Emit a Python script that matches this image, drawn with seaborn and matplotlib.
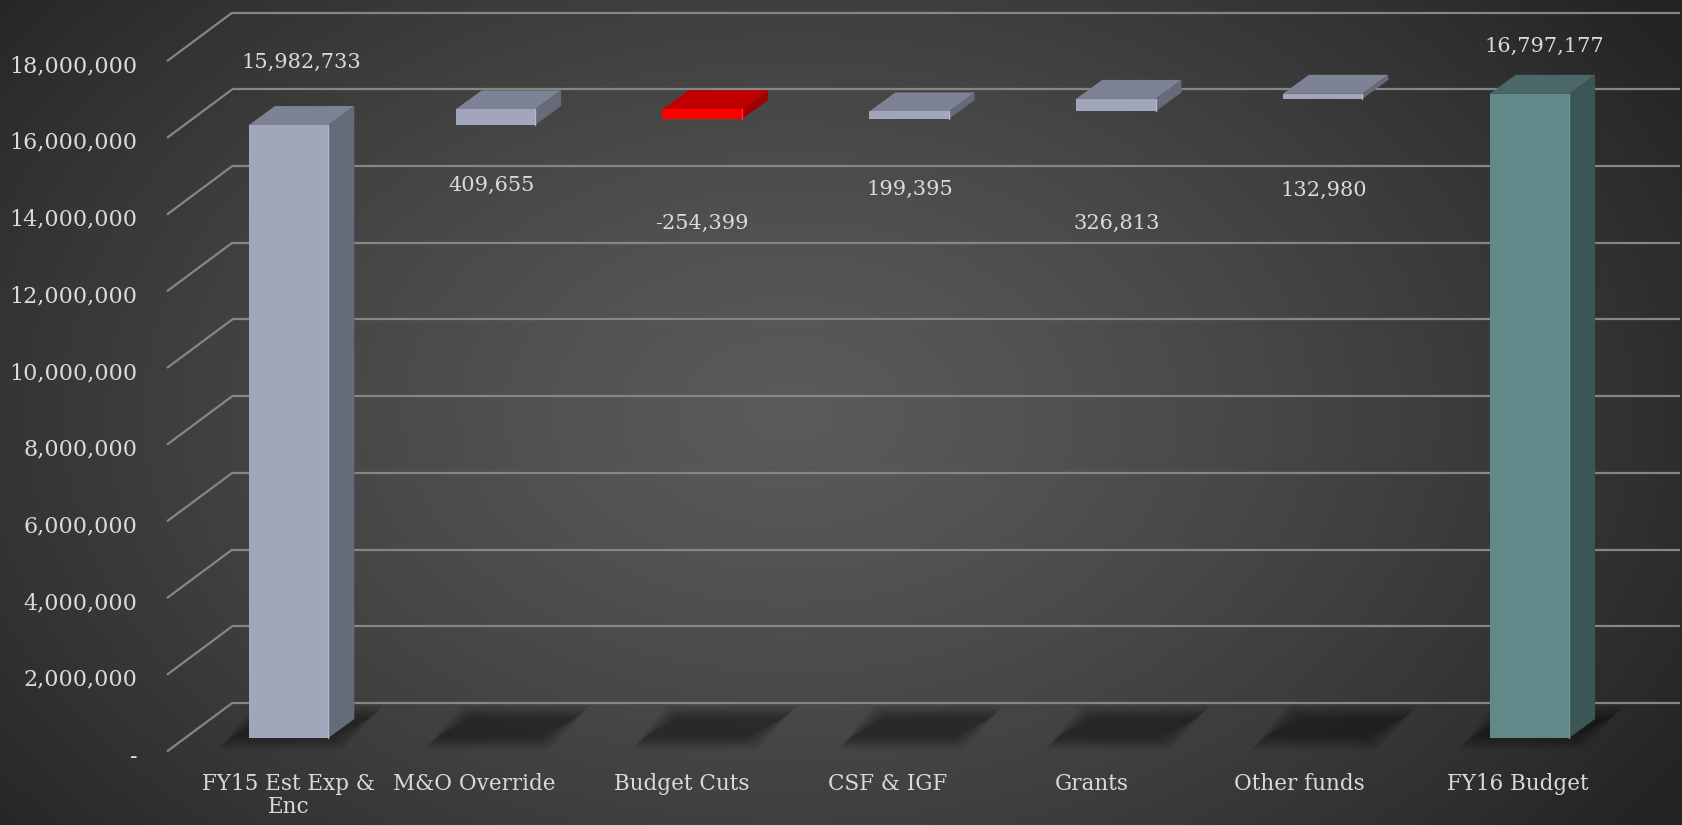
import numpy as np
import matplotlib
matplotlib.use("Agg")
import matplotlib.pyplot as plt
from matplotlib.patches import Polygon
import seaborn as sns

# ---------------- data ----------------
categories = ["FY15 Est Exp &\nEnc", "M&O Override", "Budget Cuts", "CSF & IGF",
              "Grants", "Other funds", "FY16 Budget"]
values = [15982733, 409655, -254399, 199395, 326813, 132980, 16797177]
is_total = [True, False, False, False, False, False, True]
y_ticks = [0, 2000000, 4000000, 6000000, 8000000, 10000000, 12000000, 14000000,
           16000000, 18000000]

# ---------------- styles ----------------
front_colors = ["#A2A6BA", "#A2A6BA", "#FF0000", "#A2A6BA", "#A2A6BA", "#A2A6BA", "#5F8A89"]
top_colors = ["#7D8294", "#7D8294", "#C00000", "#7D8294", "#7D8294", "#7D8294", "#4B6867"]
side_colors = ["#666B79", "#666B79", "#A00000", "#666B79", "#666B79", "#666B79", "#3C5655"]
edge_colors = ["#B3B7CB", "#B3B7CB", "#FF3030", "#B3B7CB", "#B3B7CB", "#B3B7CB", "#6E9897"]
# data-label offsets in pixels (x, y), relative to bar top (totals) or bar bottom (steps)
label_offsets = [(13, 63), (-4, -60), (0, -104), (1, -70), (1, -112), (1, -91), (15, 47)]
cat_nudge = [0, -21, -20, -21, -24, -23, -12]
TEXT = "#DADADA"
GRID = "#868686"

# waterfall geometry
bottoms, heights = [], []
running = 0
for v, tot in zip(values, is_total):
    if tot:
        bottoms.append(0)
        heights.append(v)
        running = v
    else:
        bottoms.append(min(running, running + v))
        heights.append(abs(v))
        running += v

sns.set_theme(style="white")
plt.rcParams['font.family'] = ['DejaVu Serif']

W, H, DPI = 1682, 825, 100
fig = plt.figure(figsize=(W / DPI, H / DPI), dpi=DPI)

# background radial gradient
bg = fig.add_axes([0, 0, 1, 1], zorder=0)
yy, xx = np.mgrid[0:1:H * 1j, 0:1:W * 1j]
r = np.sqrt(((xx - 0.47) / 0.62) ** 2 + ((yy - 0.5) / 0.85) ** 2)
shade = (0x5A - (0x5A - 0x24) * np.clip(r, 0, 1) ** 1.3) / 255.0
bg.imshow(np.dstack([shade] * 3), aspect='auto', extent=[0, 1, 0, 1])
bg.set_axis_off()

ax = fig.add_axes([0, 0, 1, 1], zorder=1)
ax.patch.set_alpha(0)

sns.barplot(x=list(range(len(categories))), y=heights, hue=list(range(len(categories))),
            palette=front_colors, saturation=1, width=0.384, legend=False, ax=ax,
            edgecolor="none", zorder=5)

# scale: front plane of bars
PX_CAT = 206.8
PX_UNIT = 38.35 / 1e6
X0 = 288.6
Y0 = H - 738
ax.set_xlim(-X0 / PX_CAT, (W - X0) / PX_CAT)
ax.set_ylim(-Y0 / PX_UNIT, (H - Y0) / PX_UNIT)
ax.set_axis_off()


def d(px, py):
    inv = ax.transData.inverted()
    a = inv.transform((0, 0))
    b = inv.transform((px, py))
    return b[0] - a[0], b[1] - a[1]


bx, by = d(47, 35)      # back wall
fx, fy = d(-17.6, -13)  # front edge of floor
dx, dy = d(26, 19)      # bar depth

n = len(categories)
left, right = -0.5, n - 0.5
for v in y_ticks:
    ax.plot([left + bx, right + bx], [v + by, v + by], color=GRID, lw=1.6, zorder=1,
            solid_capstyle='butt')
    ax.plot([left + fx, left + bx], [v + fy, v + by], color=GRID, lw=1.6, zorder=1)
    ax.annotate("-" if v == 0 else f"{v:,}", xy=(left, v), xytext=(-48, -18.5),
                textcoords='offset pixels', ha='right', va='center', fontsize=16,
                color=TEXT, zorder=10)

# soft floor shadows
shadow_px = [(-64, -5), (48, -5), (88, 26), (-28, 26)]
for p in ax.patches[:n]:
    c = p.get_x() + p.get_width() / 2
    for k in range(10):
        g = 7 - k * 1.5
        verts = []
        for (sx, sy) in shadow_px:
            ex = sx + (g if sx > 12 else -g)
            ey = sy + (g if sy > 10 else -g)
            ox, oy = d(ex, ey)
            verts.append((c + ox, oy))
        ax.add_patch(Polygon(verts, closed=True, facecolor="black", edgecolor="none",
                             alpha=0.042, zorder=2))

# 3D bars: move front faces to waterfall bottoms and add top / side faces
for i, p in enumerate(ax.patches[:n]):
    p.set_y(bottoms[i])
    p.set_height(heights[i])
    x0 = p.get_x()
    x1 = x0 + p.get_width()
    b = bottoms[i]
    t = bottoms[i] + heights[i]
    ax.add_patch(Polygon([(x0, t), (x1, t), (x1 + dx, t + dy), (x0 + dx, t + dy)],
                         closed=True, facecolor=top_colors[i], edgecolor="none", zorder=4))
    ax.add_patch(Polygon([(x1, b), (x1 + dx, b + dy), (x1 + dx, t + dy), (x1, t)],
                         closed=True, facecolor=side_colors[i], edgecolor="none", zorder=4))
    ax.plot([x1, x1], [b, t], color=edge_colors[i], lw=1.0, zorder=6)
    c = x0 + p.get_width() / 2
    anchor = t if is_total[i] else b
    ax.annotate(f"{values[i]:,}", xy=(c, anchor), xytext=label_offsets[i],
                textcoords='offset pixels', ha='center', va='center', fontsize=15,
                color=TEXT, zorder=10)
    ax.annotate(categories[i], xy=(i, 0), xytext=(cat_nudge[i], -35),
                textcoords='offset pixels', ha='center', va='top', fontsize=15.5,
                color=TEXT, multialignment='center', linespacing=1.05, zorder=10)

fig.savefig("out.png", dpi=DPI)
